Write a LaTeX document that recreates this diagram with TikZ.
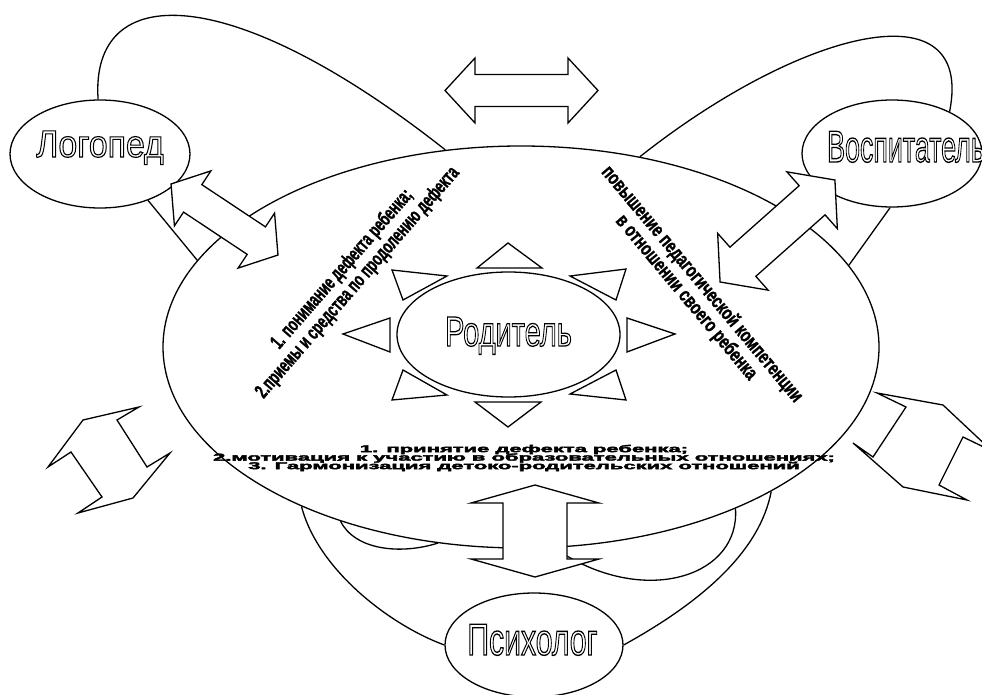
\documentclass[tikz,border=0pt]{standalone}
\usepackage{fontspec}
\setmainfont{Liberation Sans}
\newfontfamily\imyafont[FakeBold=3]{Liberation Sans}
\newfontfamily\zhirnyi[FakeBold=1.5]{Liberation Sans Bold}
\newfontfamily\chernyi[FakeBold=3]{Liberation Sans Bold}
\usetikzlibrary{shapes.geometric}

\newcommand{\sjat}[2]{\scalebox{#1}[1]{#2}}
\newcommand{\kontur}[1]{\textcolor{white}{\special{pdf:code 0 G}#1}}
% center, angle, half length, head length, head half width, shaft half width
\newcommand{\dvestrelki}[6]{%
  \draw[blok, shift={(#1)}, rotate=#2] (-#3,0) -- ({-#3+#4},#5) -- ({-#3+#4},#6)
    -- ({#3-#4},#6) -- ({#3-#4},#5) -- (#3,0) -- ({#3-#4},-#5) -- ({#3-#4},-#6)
    -- ({-#3+#4},-#6) -- ({-#3+#4},-#5) -- cycle;}

\tikzset{
  liniya/.style={line width=1.3pt},
  oval/.style={ellipse, draw, line width=1.3pt, fill=white, inner sep=0pt},
  blok/.style={draw, line width=1.3pt, fill=white, line join=miter},
  imya/.style={anchor=base, inner sep=0pt},
  podpis/.style={font=\zhirnyi\fontsize{20}{20.5}\selectfont, align=center, inner sep=0pt},
  niz/.style={font=\chernyi\fontsize{10}{10}\selectfont, align=center, inner sep=0pt},
}

\begin{document}
\begin{tikzpicture}[x=1pt, y=-1pt]
        \useasboundingbox (0,0) rectangle (982,695);

        \node[oval, minimum width=716pt, minimum height=402pt] (oblast)     at (521,347)     {};
        \node[oval, minimum width=180pt, minimum height=108pt] (logoped)    at (100,154)     {};
        \node[oval, minimum width=180pt, minimum height=107pt] (vospitatel) at (892,153.5)   {};
        \node[oval, minimum width=178pt, minimum height=104pt] (psiholog)   at (534,645)     {};
        \node[oval, minimum width=223pt, minimum height=125pt] (roditel)    at (508.5,334.5) {};
        \coordinate (lepestok) at (567,556);

        % petli
        \draw[liniya] (logoped.92) .. controls (90,-20) and (230,-20) .. (oblast.111.6);
        \draw[liniya] (logoped.-44) -- (oblast.165.4);
        \draw[liniya] (oblast.58.6) .. controls (800,30) and (975,-15) .. (vospitatel.36.6);
        \draw[liniya] (vospitatel.-92) -- (oblast.14.9);
        \draw[liniya] (oblast.216.8) .. controls (318,570) and (390,625) .. (psiholog.west);
        \draw[liniya] (psiholog.east) .. controls (705,600) and (760,550) .. (oblast.-30.7);
        \draw[liniya] (oblast.224.8) .. controls (355,550) and (400,555) .. (oblast.247.4);
        \draw[liniya] (oblast.-37.5) .. controls (740,575) and (650,605) .. (lepestok);

        % luchi vokrug roditelya
        \draw[blok] (477,268) -- (542,268) -- (508,243) -- cycle;
        \draw[blok] (570,276) -- (626,269) -- (616,300) -- cycle;
        \draw[blok] (627,318) -- (675,334) -- (627,352) -- cycle;
        \draw[blok] (570,394) -- (626,400) -- (616,370) -- cycle;
        \draw[blok] (475,402) -- (541,402) -- (508,427) -- cycle;
        \draw[blok] (403,370) -- (392,400) -- (447,395) -- cycle;
        \draw[blok] (343,334) -- (390,318) -- (390,352) -- cycle;
        \draw[blok] (392,270) -- (447,276) -- (403,300) -- cycle;

        % strelki
        \dvestrelki{521.5,90.5}{0}{76.5}{30}{32.5}{16}
        \dvestrelki{224.5,219.5}{-33.6}{64.2}{26}{33}{16.5}
        \dvestrelki{777.5,231}{41.6}{76.8}{30.5}{38}{19.5}
        \dvestrelki{535,531}{90}{46}{18}{64}{32}
        \draw[blok] (139,407) -- (83,420) -- (48,467) -- (71,452) -- (102,497) -- (78,513)
          -- (133,498) -- (170,453) -- (147,467) -- (117,420) -- cycle;
        \draw[blok] (877,393) -- (943,405) -- (992,451) -- (963,437) -- (939,485) -- (967,500)
          -- (903,487) -- (853,443) -- (873,457) -- (906,407) -- cycle;

        % nadpisi
        \node[imya, font=\imyafont\fontsize{38}{40}\selectfont] (t-logoped)    at (100,157)   {\sjat{.89}{\kontur{Логопед}}};
        \node[imya, font=\imyafont\fontsize{44.7}{46}\selectfont] (t-vospitatel) at (906,162) {\sjat{.6}{\kontur{Воспитатель}}};
        \node[imya, font=\imyafont\fontsize{44.7}{46}\selectfont] (t-psiholog)   at (532.5,655) {\sjat{.675}{\kontur{Психолог}}};
        \node[imya, font=\imyafont\fontsize{42}{44}\selectfont] (t-roditel)    at (508.5,346) {\sjat{.69}{\kontur{Родитель}}};

        \node[podpis, rotate=49] (t-defekt) at (350,276)
          {\sjat{.65}{1. понимание дефекта ребенка;}\\\sjat{.65}{2.приемы и средства по продолению дефекта}};
        \node[podpis, rotate=-50] (t-kompetenciya) at (694,291)
          {\sjat{.73}{повышение педагогической компетенции}\\\sjat{.73}{в отношении своего ребенка}};
        \node[niz] (t-garmoniya) at (524,458)
          {\sjat{2.2}{1. принятие дефекта ребенка;}\\[-1.5pt]\sjat{2.2}{2.мотивация к участию в образовательных отношениях;}\\[-1.5pt]\sjat{2.2}{3. Гармонизация детоко-родительских отношений}};
\end{tikzpicture}
\end{document}
